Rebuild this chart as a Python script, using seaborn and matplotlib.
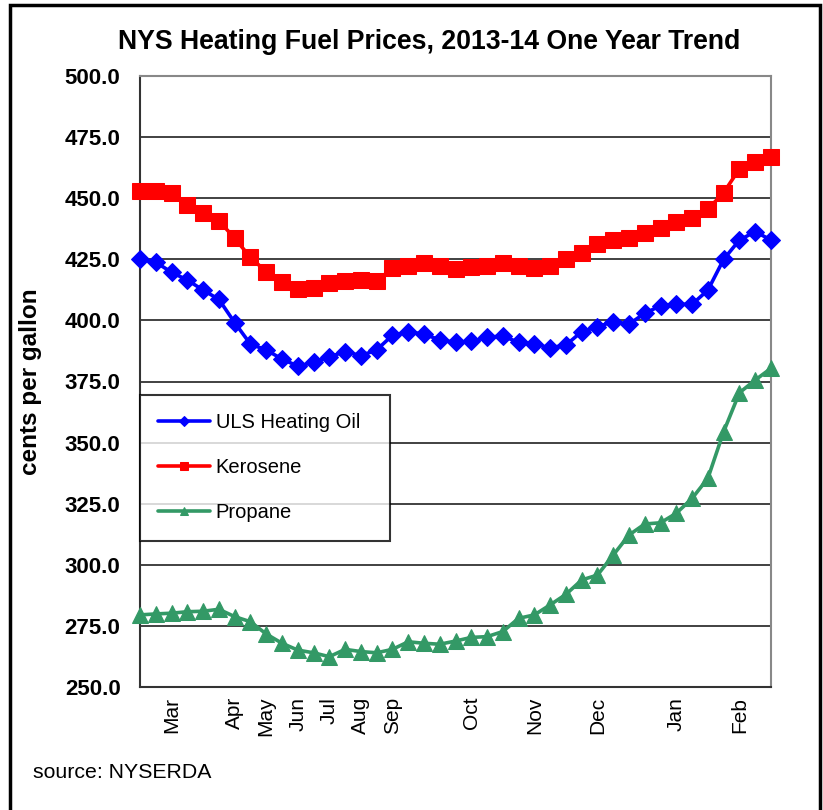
import matplotlib
matplotlib.use("Agg")
import matplotlib.pyplot as plt
import matplotlib.patches as mpatches
import seaborn as sns
import pandas as pd
import numpy as np

# ---- data ----
tick_labels = ["", "", "Mar", "", "", "", "Apr", "", "May", "", "Jun", "", "Jul", "", "Aug", "",
               "Sep", "", "", "", "", "Oct", "", "", "", "Nov", "", "", "", "Dec", "", "", "", "",
               "Jan", "", "", "", "Feb", "", ""]
heating_oil = [425.1, 423.8, 419.7, 416.5, 412.4, 408.6, 399.1, 390.3, 387.9, 384.2, 381.3,
               382.8, 385.1, 387.2, 385.6, 387.9, 393.9, 395.3, 394.4, 392.0, 391.0, 391.4,
               393.1, 393.6, 391.0, 390.3, 388.8, 389.9, 395.4, 397.4, 399.5, 398.5, 402.9,
               406.0, 406.6, 406.6, 412.4, 425.0, 432.9, 436.3, 432.9]
kerosene = [453.0, 453.0, 452.0, 447.2, 443.8, 440.8, 433.6, 425.8, 419.9, 415.8, 412.7,
            413.1, 415.2, 416.2, 416.5, 416.2, 421.3, 422.3, 423.4, 422.3, 420.9, 421.7,
            422.3, 423.4, 422.3, 421.3, 422.3, 425.1, 427.7, 431.3, 432.9, 433.6, 435.6,
            437.7, 440.1, 441.8, 445.5, 452.3, 462.0, 465.0, 467.0]
propane = [279.5, 279.9, 280.2, 280.8, 281.0, 281.8, 278.8, 276.7, 271.7, 267.9, 265.1,
           264.0, 262.4, 265.4, 264.5, 264.0, 265.4, 268.5, 267.9, 267.5, 268.8, 270.3,
           270.6, 272.7, 278.1, 279.5, 283.6, 287.9, 293.8, 295.8, 304.0, 312.2, 316.7,
           317.2, 321.1, 327.2, 335.4, 354.5, 370.4, 375.6, 380.4]
series_names = ["ULS Heating Oil", "Kerosene", "Propane"]
series_colors = ["#0000FF", "#FF0000", "#339966"]
series_markers = ["D", "s", "^"]
series_msize = [9.5, 11, 11]

idx = list(range(len(tick_labels)))
df = pd.concat([
    pd.DataFrame({"week": idx, "price": heating_oil, "fuel": series_names[0]}),
    pd.DataFrame({"week": idx, "price": kerosene, "fuel": series_names[1]}),
    pd.DataFrame({"week": idx, "price": propane, "fuel": series_names[2]}),
])

sns.set_style("white")
plt.rcParams["font.family"] = ["Liberation Sans", "DejaVu Sans"]
plt.rcParams["text.color"] = "black"
plt.rcParams["axes.labelcolor"] = "black"
plt.rcParams["xtick.labelcolor"] = "black"
plt.rcParams["ytick.labelcolor"] = "black"

fig = plt.figure(figsize=(8.23, 8.10), dpi=100)
ax = fig.add_axes([140/823, 1-687/810, (771-140)/823, (687-76)/810])

for name, col, mk, ms in zip(series_names, series_colors, series_markers, series_msize):
    sub = df[df["fuel"] == name]
    sns.lineplot(data=sub, x="week", y="price", ax=ax, color=col, marker=mk,
                 markersize=ms, markeredgecolor=col, linewidth=2.6, label=name,
                 clip_on=False, zorder=3)

ax.set_xlim(0, len(idx)-1)
ax.set_ylim(250, 500)
ax.set_yticks(np.arange(250, 501, 25))
ax.set_yticklabels([f"{v:.1f}" for v in np.arange(250, 501, 25)],
                   fontsize=16, fontweight="bold")
ax.set_xticks(idx)
ax.set_xticklabels(tick_labels, rotation=90, fontsize=15)
ax.tick_params(axis="x", length=6, width=1.2, color="#333333", pad=1, direction="out")
ax.tick_params(axis="y", length=6, width=1.2, color="#333333", pad=8, direction="out")
ax.yaxis.grid(True, color="#333333", linewidth=1.3)
ax.xaxis.grid(False)
ax.set_axisbelow(True)
for s in ["left", "bottom"]:
    ax.spines[s].set_color("#333333")
    ax.spines[s].set_linewidth(1.5)
for s in ["top", "right"]:
    ax.spines[s].set_color("#888888")
    ax.spines[s].set_linewidth(1.5)
    ax.spines[s].set_visible(True)

ax.set_xlabel("")
ax.set_ylabel("cents per gallon", fontsize=17.5, fontweight="bold")
ax.yaxis.set_label_coords(-0.155, 0.5)

fig.text(429/823, 1-42/810, "NYS Heating Fuel Prices, 2013-14 One Year Trend",
         ha="center", va="center", fontsize=19.2, fontweight="bold")
fig.text(33/823, 1-773/810, "source: NYSERDA", ha="left", va="center", fontsize=15.3)

leg = ax.legend(loc="upper left", bbox_to_anchor=(0.0, 0.0, 0.396, 0.478),
                mode="expand", fontsize=14.5, frameon=True, fancybox=False,
                handlelength=2.6, labelspacing=1.3, borderpad=0.9, handletextpad=0.25,
                borderaxespad=0.0, markerscale=0.55)
leg.get_frame().set_edgecolor("black")
leg.get_frame().set_linewidth(1.5)
leg.set_zorder(5)
for t in leg.get_texts():
    t.set_x(0)

# outer border
fig.patches.append(mpatches.Rectangle((10/823, -0.01), (820-10)/823, 1.01-5/810,
                   transform=fig.transFigure, fill=False, edgecolor="black",
                   linewidth=2.5))

fig.savefig("out.png", dpi=100)
